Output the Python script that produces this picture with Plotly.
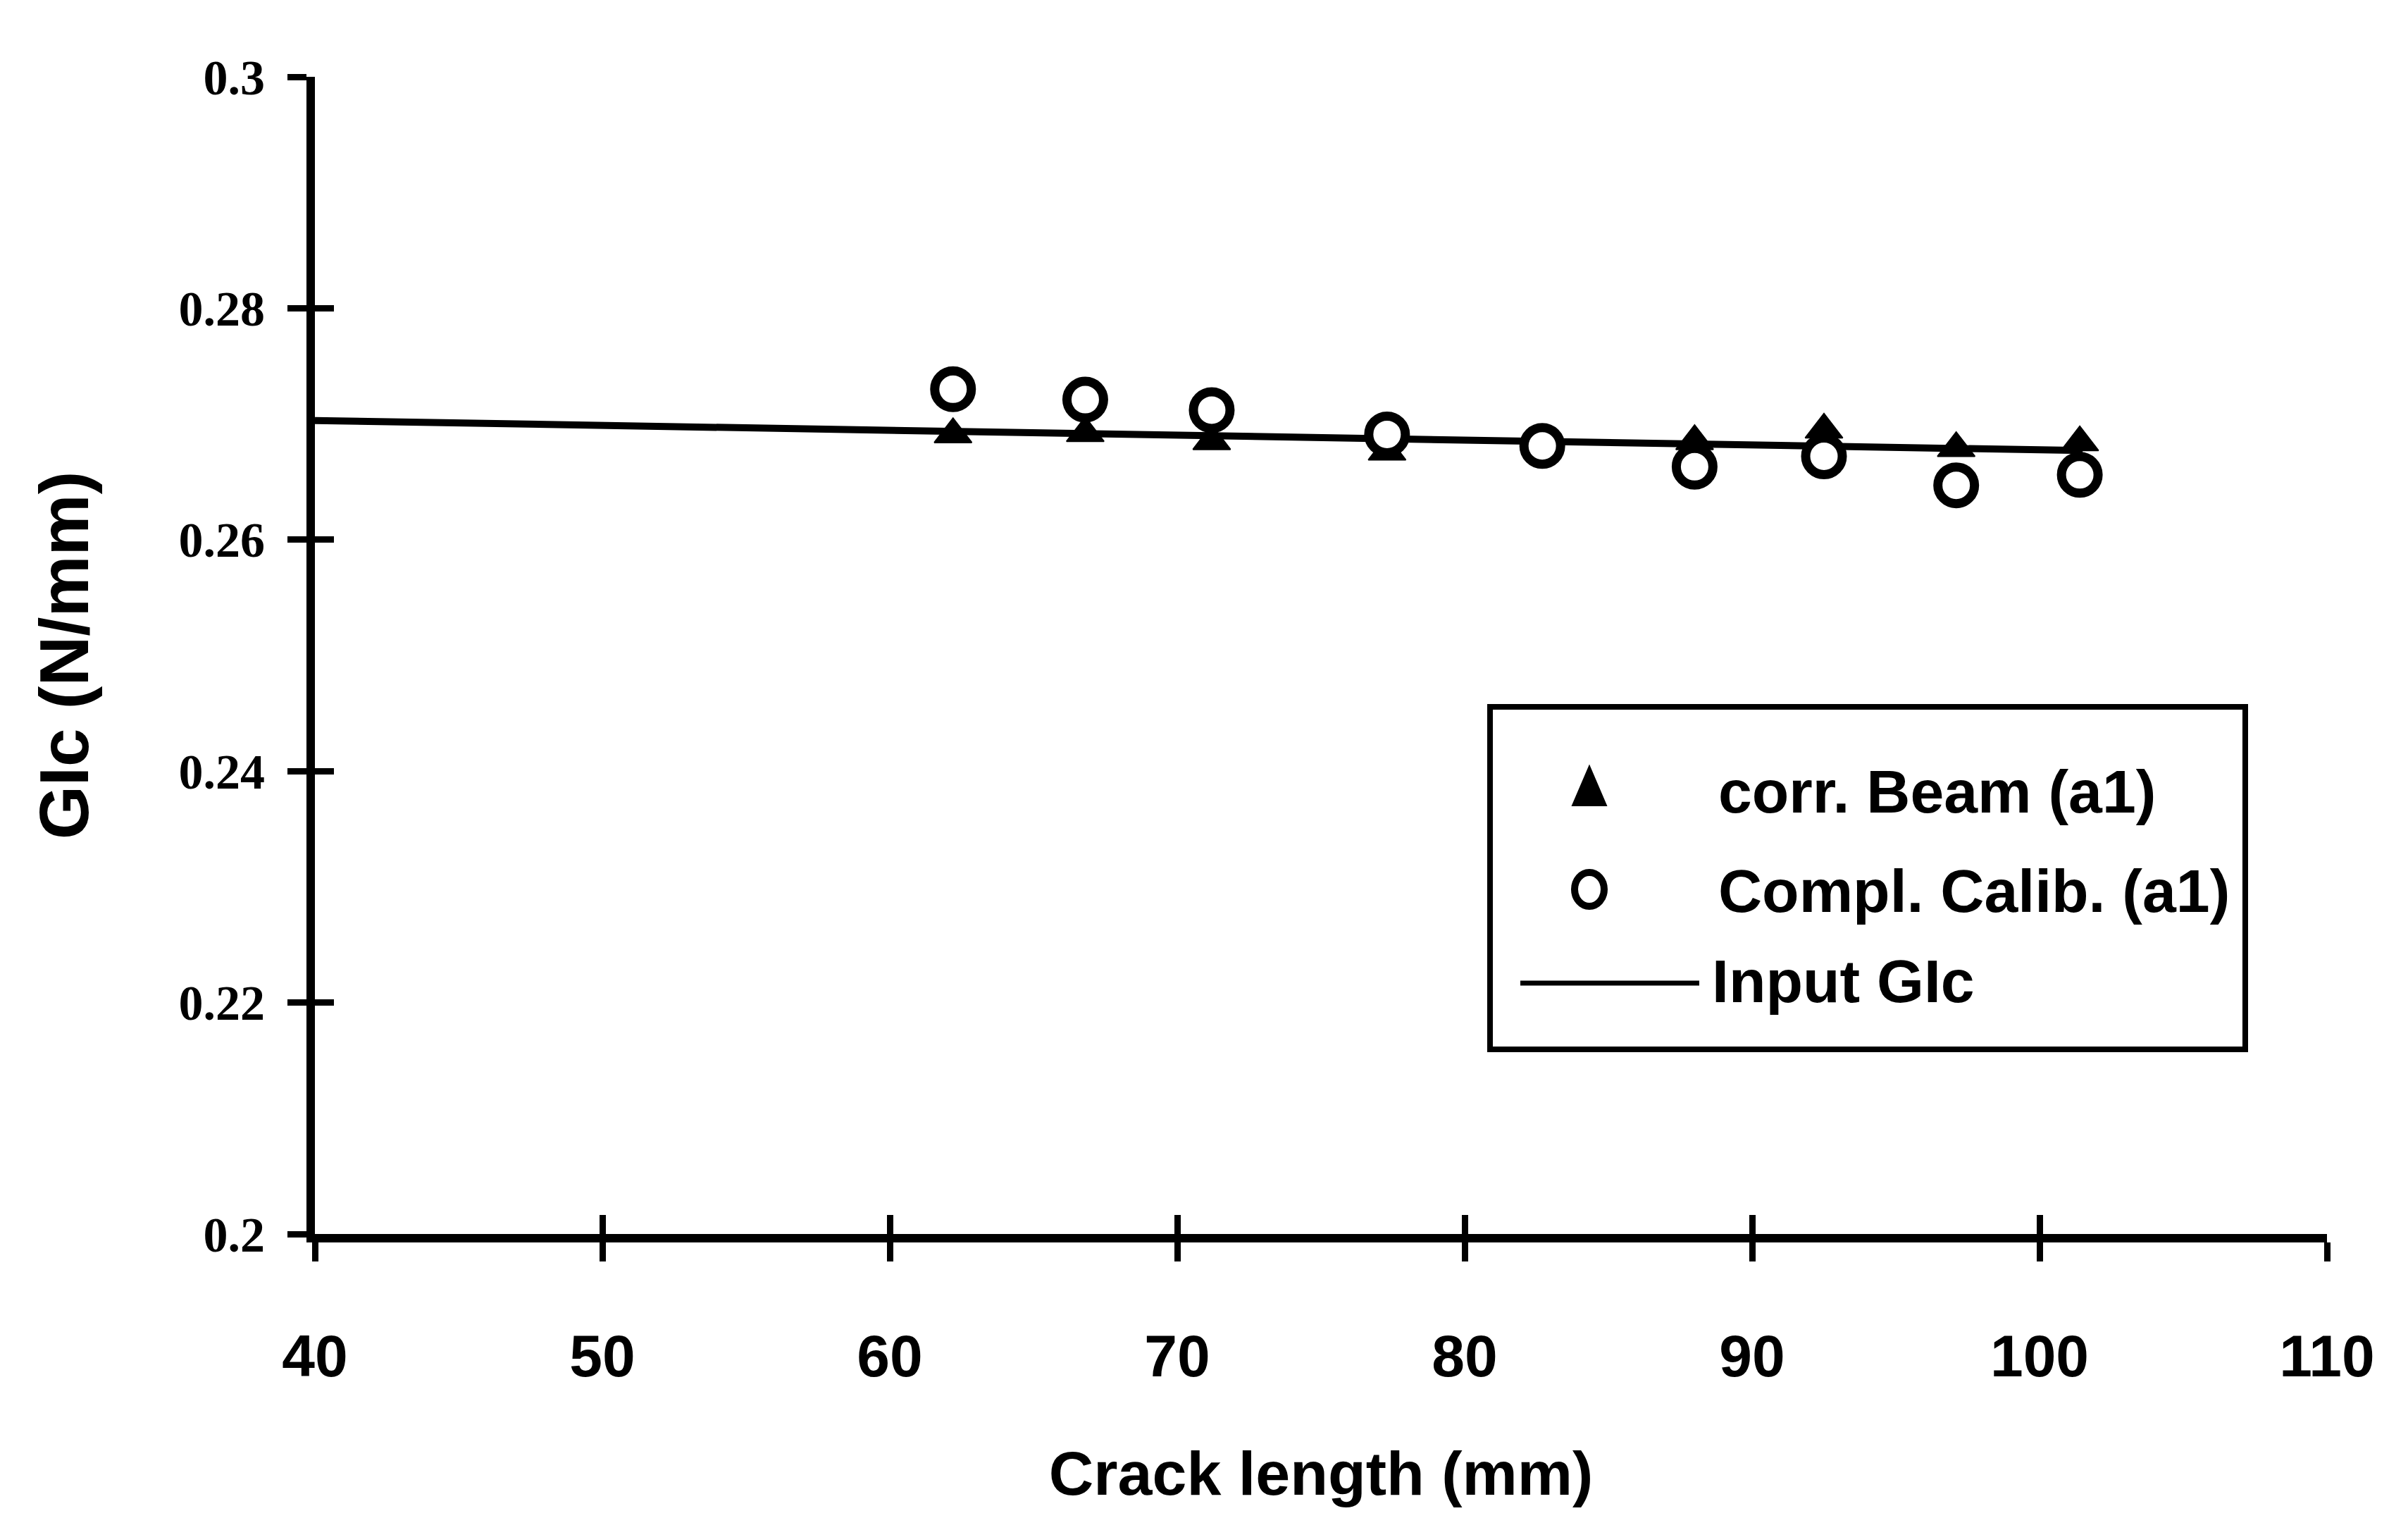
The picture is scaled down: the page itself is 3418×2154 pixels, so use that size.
import plotly.graph_objects as go

# Crack length (mm)
crack_length = [62.2, 66.8, 71.2, 77.3, 82.7, 88.0, 92.5, 97.1, 101.4]
# corr. Beam (a1) GIc values (N/mm)
corr_beam = [0.2691, 0.2692, 0.2685, 0.2676, 0.2681, 0.2685, 0.2695, 0.2679, 0.2684]
# Compl. Calib. (a1) GIc values (N/mm)
compl_calib = [0.2730, 0.2721, 0.2712, 0.2691, 0.2681, 0.2663, 0.2672, 0.2647, 0.2656]
# Input GIc line
input_x = [40, 101.5]
input_gic = [0.2703, 0.2677]

x_ticks = [40, 50, 60, 70, 80, 90, 100, 110]
y_ticks = [0.2, 0.22, 0.24, 0.26, 0.28, 0.3]
y_tick_text = ["0.2", "0.22", "0.24", "0.26", "0.28", "0.3"]

legend_names = ["corr. Beam (a1)", "Compl. Calib. (a1)", "Input GIc"]

SANS = "Liberation Sans Narrow, Arial Narrow, Liberation Sans, Arial, sans-serif"
SERIF = "Liberation Serif, Times New Roman, serif"

W, H = 3418, 2154
ML, MR, MT, MB = 447, 115, 109, 403
PW, PH = W - ML - MR, H - MT - MB


def px(xp):
    return (xp - ML) / PW


def py(yp):
    return 1 - (yp - MT) / PH


fig = go.Figure()

fig.add_trace(go.Scatter(
    x=input_x, y=input_gic, mode="lines", name=legend_names[2],
    line=dict(color="black", width=10), showlegend=False,
))
fig.add_trace(go.Scatter(
    x=crack_length, y=corr_beam, mode="markers", name=legend_names[0],
    marker=dict(symbol="triangle-up", size=46, color="black",
                line=dict(color="black", width=2)),
    showlegend=False,
))
# circles are drawn on the overlaying axes pair (same ranges) so they sit on top
# and so those axes carry the inner half of the cross-shaped ticks
fig.add_trace(go.Scatter(
    x=crack_length, y=compl_calib, mode="markers", name=legend_names[1],
    xaxis="x2", yaxis="y2",
    marker=dict(symbol="circle", size=52, color="white",
                line=dict(color="black", width=13)),
    showlegend=False,
))

# ---- legend box (drawn manually to get full-size symbols) ----
shapes = [
    dict(type="rect", xref="paper", yref="paper",
         x0=px(2115), x1=px(3187), y0=py(1003), y1=py(1489),
         line=dict(color="black", width=8), fillcolor="white", layer="above"),
    # triangle symbol
    dict(type="path", xref="paper", yref="paper", xsizemode="pixel", ysizemode="pixel",
         xanchor=px(2256), yanchor=py(1116),
         path="M -24,-27 L 24,-27 L 0,29 Z",
         fillcolor="black", line=dict(color="black", width=2), layer="above"),
    # circle symbol
    dict(type="circle", xref="paper", yref="paper", xsizemode="pixel", ysizemode="pixel",
         xanchor=px(2256), yanchor=py(1262),
         x0=-21, x1=21, y0=-24, y1=24,
         fillcolor="white", line=dict(color="black", width=10), layer="above"),
    # line symbol
    dict(type="line", xref="paper", yref="paper",
         x0=px(2158), x1=px(2412), y0=py(1395), y1=py(1395),
         line=dict(color="black", width=7), layer="above"),
]
legend_rows_y = [1123, 1264, 1392]
legend_text_x = [2437, 2437, 2428]
annotations = []
for name, yy, xx in zip(legend_names, legend_rows_y, legend_text_x):
    annotations.append(dict(
        text=name, xref="paper", yref="paper", x=px(xx), y=py(yy),
        xanchor="left", yanchor="middle", showarrow=False,
        font=dict(family=SANS, size=86, color="black", weight="bold"),
    ))

fig.update_layout(
    width=W, height=H,
    margin=dict(l=ML, r=MR, t=MT, b=MB),
    paper_bgcolor="white", plot_bgcolor="white",
    font=dict(family=SANS, color="black", size=80),
    showlegend=False,
    shapes=shapes,
    annotations=annotations,
    xaxis=dict(
        range=[40, 110], tickvals=x_ticks, ticktext=[str(v) for v in x_ticks],
        showgrid=False, zeroline=False,
        showline=True, linecolor="black", linewidth=12,
        ticks="outside", ticklen=27, tickwidth=9, tickcolor="black",
        ticklabelstandoff=62,
        tickfont=dict(family=SANS, size=84, weight="bold"),
        title=dict(text="Crack length (mm)", standoff=95,
                   font=dict(family=SANS, size=88, weight="bold")),
    ),
    yaxis=dict(
        range=[0.2, 0.3], tickvals=y_ticks, ticktext=y_tick_text,
        showgrid=False, zeroline=False,
        showline=True, linecolor="black", linewidth=12,
        ticks="outside", ticklen=27, tickwidth=9, tickcolor="black",
        ticklabelstandoff=18,
        tickfont=dict(family=SERIF, size=70, weight="bold"),
        title=dict(text="GIc (N/mm)", standoff=100,
                   font=dict(family=SANS, size=98, weight="bold")),
    ),
    xaxis2=dict(
        range=[40, 110], tickvals=x_ticks, overlaying="x", side="bottom",
        anchor="y2", showticklabels=False, showgrid=False, zeroline=False,
        showline=False,
        ticks="inside", ticklen=27, tickwidth=9, tickcolor="black",
    ),
    yaxis2=dict(
        range=[0.2, 0.3], tickvals=y_ticks, overlaying="y", side="left",
        anchor="x2", showticklabels=False, showgrid=False, zeroline=False,
        showline=False,
        ticks="inside", ticklen=27, tickwidth=9, tickcolor="black",
    ),
)

fig.write_html("out.html")
